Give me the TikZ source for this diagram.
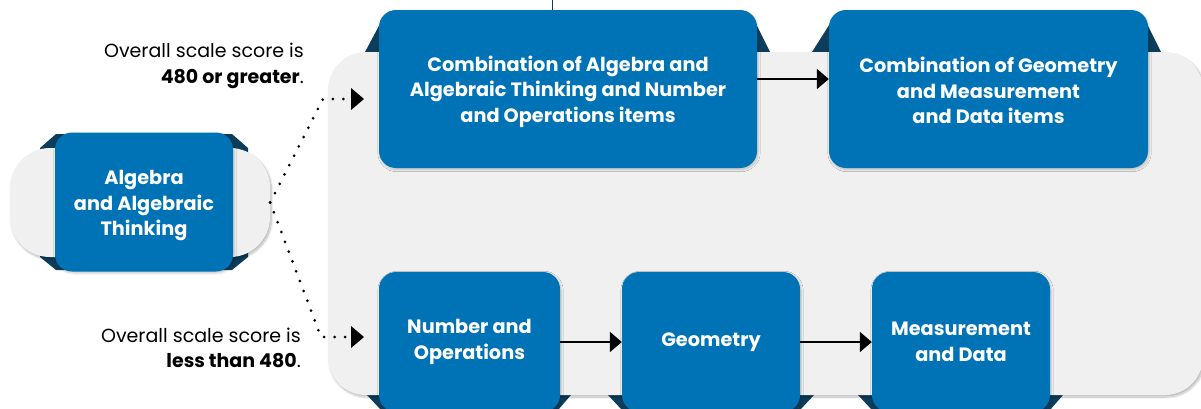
\documentclass[tikz,border=0pt]{standalone}
\usepackage{fontspec}
\setmainfont{Poppins}
\usetikzlibrary{arrows.meta,shadows.blur}

\definecolor{boxblue}{RGB}{0,114,182}
\definecolor{edgeteal}{RGB}{12,62,92}
\definecolor{panelgray}{RGB}{240,240,240}

% invisible strut that makes a first line taller, so the text sits lower
\newcommand{\toppad}[1]{\rule{0pt}{#1}}

\begin{document}
\begin{tikzpicture}[x=1pt,y=-1pt,
  panel/.style={fill=panelgray, rounded corners=38pt,
    blur shadow={shadow xshift=1.5pt, shadow yshift=-2pt, shadow blur steps=8, shadow opacity=28}},
  basebox/.style={fill=panelgray, rounded corners=40pt, inner sep=0pt,
    blur shadow={shadow xshift=1.5pt, shadow yshift=-2pt, shadow blur steps=8, shadow opacity=28}},
  stepbox/.style={fill=boxblue, rounded corners=17pt, text=white, inner sep=0pt,
    align=center, font=\bfseries\fontsize{19.3}{25.5}\selectfont,
    blur shadow={shadow xshift=1pt, shadow yshift=-1.5pt, shadow blur steps=5, shadow opacity=22}},
  ridge/.style={fill=edgeteal},
  note/.style={align=right, anchor=east, inner sep=0pt, font=\fontsize{19}{25.5}\selectfont},
  flow/.style={draw=black, line width=2pt, -{Triangle[length=12pt,width=20pt]}},
  pick/.style={draw=black, line width=3pt, line cap=round, dash pattern=on 0pt off 10.5pt,
    -{Triangle[length=13pt,width=22pt,line width=0pt]}}
]
\useasboundingbox (0,0) rectangle (1201,408);
\clip (0,0) rectangle (1201,408);

% dark ridges peeking out behind the boxes
\fill[ridge] (40,148) -- (56,134) -- (232,134) -- (248,148) -- (248,257) -- (232,270) -- (56,270) -- (40,257) -- cycle;
\fill[ridge] (365,52) -- (381,22) -- (755,22) -- (770,52) -- cycle;
\fill[ridge] (812,52) -- (831,22) -- (1146,22) -- (1161,52) -- cycle;
\fill[ridge] (367,395) -- (381,410) -- (558,410) -- (571,395) -- cycle;
\fill[ridge] (608,395) -- (622,410) -- (800,410) -- (814,395) -- cycle;
\fill[ridge] (858,395) -- (872,410) -- (1050,410) -- (1063,395) -- cycle;
\draw[edgeteal, line width=0.6pt] (552.5,0) -- (552.5,10);

% grey backgrounds
\fill[panel] (328,52) rectangle (1203,395);
\node[basebox, minimum width=260pt, minimum height=109pt] (algbase) at (140,202.5) {};

% subject boxes
\node[stepbox, minimum width=178pt, minimum height=139pt] (alg) at (144,202) {\toppad{22pt}Algebra\\and Algebraic\\Thinking};
\node[stepbox, minimum width=378pt, minimum height=158pt] (b1) at (568,89) {\toppad{20.5pt}Combination of Algebra and\\Algebraic Thinking and Number\\and Operations items};
\node[stepbox, minimum width=319pt, minimum height=158pt] (b2) at (988.5,89) {\toppad{19pt}Combination of Geometry\\and Measurement\\and Data items};
\node[stepbox, minimum width=181pt, minimum height=140pt] (b3) at (469.5,342) {Number and\\Operations};
\node[stepbox, minimum width=178pt, minimum height=140pt] (b4) at (711,342) {Geometry};
\node[stepbox, minimum width=178pt, minimum height=140pt] (b5) at (961,342) {Measurement\\and Data};

% score conditions
\node[note] (hi) at (304,66) {Overall scale score is\\\textbf{480 or greater}.};
\node[note] (lo) at (301,348) {Overall scale score is\\\textbf{less than 480}.};

% routing
\coordinate (tipA) at (364,99);
\coordinate (tipB) at (364,337);
\draw[pick] (algbase.east) -- (323,99) -- (tipA);
\draw[pick] (algbase.east) -- (321,337) -- (tipB);

\draw[flow] ([yshift=10pt]b1.east) -- ([yshift=10pt]b2.west);
\draw[flow] (b3.east) -- (b4.west);
\draw[flow] (b4.east) -- (b5.west);
\end{tikzpicture}
\end{document}
